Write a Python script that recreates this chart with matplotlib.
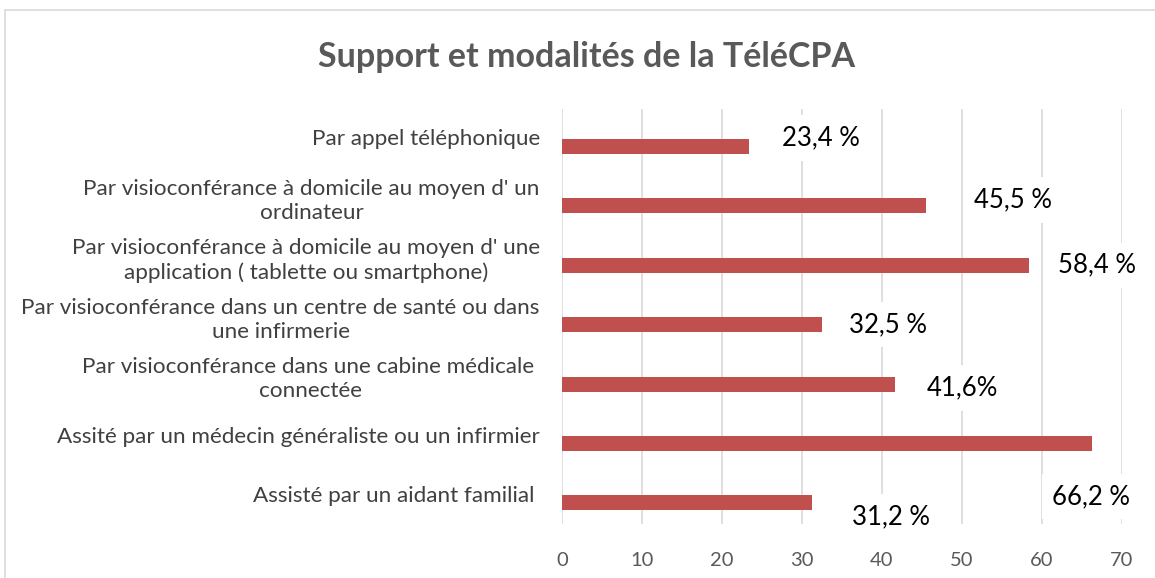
import matplotlib
matplotlib.use("Agg")
import matplotlib.pyplot as plt
from matplotlib.patches import Rectangle
import matplotlib.transforms as mtransforms

categories = [
    "Par appel téléphonique",
    "Par visioconférance à domicile au moyen d' un\nordinateur",
    "Par visioconférance à domicile au moyen d' une\napplication ( tablette ou smartphone)",
    "Par visioconférance dans un centre de santé ou dans\nune infirmerie",
    "Par visioconférance dans une cabine médicale \nconnectée",
    "Assité par un médecin généraliste ou un infirmier",
    "Assisté par un aidant familial ",
]
values = [23.4, 45.5, 58.4, 32.5, 41.6, 66.2, 31.2]
value_labels = ["23,4 %", "45,5 %", "58,4 %", "32,5 %", "41,6%", "66,2 %", "31,2 %"]
x_ticks = [0, 10, 20, 30, 40, 50, 60, 70]
title = "Support et modalités de la TéléCPA"

# label placement offsets (x in value units, y in category units)
label_dx = [9.0, 10.9, 8.5, 8.3, 8.4, -0.1, 9.9]
label_dy = [-0.14, -0.10, 0.0, 0.0, 0.07, 0.89, 0.24]

plt.rcParams['font.family'] = ['Lato', 'DejaVu Sans']

W, H = 1155, 578
fig = plt.figure(figsize=(W / 100, H / 100), dpi=100)
fig.patch.set_facecolor("white")

# chart border
fig.patches.append(Rectangle((5 / W, -0.1), 1.2, 1 - 10 / H + 0.1, transform=fig.transFigure,
                             fill=False, edgecolor="#d9d9d9", linewidth=1.2, zorder=0))

left, right, top, bottom = 562 / W, 1122 / W, 1 - 109 / H, 1 - 524 / H
ax = fig.add_axes([left, bottom, right - left, top - bottom])

y = list(range(len(categories)))
ax.barh(y, values, height=0.25, color="#C0504D", zorder=3)

ax.set_xlim(0, 70)
ax.set_ylim(6.355, -0.631)
ax.set_xticks(x_ticks)
ax.set_xticklabels([str(t) for t in x_ticks], fontsize=14.5, color="#595959")
ax.tick_params(axis="x", length=0, pad=20)
ax.set_yticks(y)
ax.set_yticklabels(categories, fontsize=16.2, color="#404040", multialignment="center",
                   linespacing=1.25)
ax.tick_params(axis="y", length=0, pad=16)
shift = mtransforms.ScaledTranslation(0, 9 / 100, fig.dpi_scale_trans)
for lab in ax.get_yticklabels():
    lab.set_transform(lab.get_transform() + shift)

ax.grid(axis="x", color="#d9d9d9", linewidth=1.2, zorder=0)
for s in ax.spines.values():
    s.set_visible(False)

for i, (v, t) in enumerate(zip(values, value_labels)):
    ax.text(v + label_dx[i], i + label_dy[i], t, ha="center", va="center", fontsize=18.5,
            color="black", zorder=5,
            bbox=dict(boxstyle="square,pad=0.4", facecolor="white", edgecolor="none"))

fig.text(587 / W, 1 - 57 / H, title, ha="center", va="center", fontsize=24.5,
         fontweight="bold", color="#595959")

fig.savefig("out.png", dpi=100, facecolor="white")
